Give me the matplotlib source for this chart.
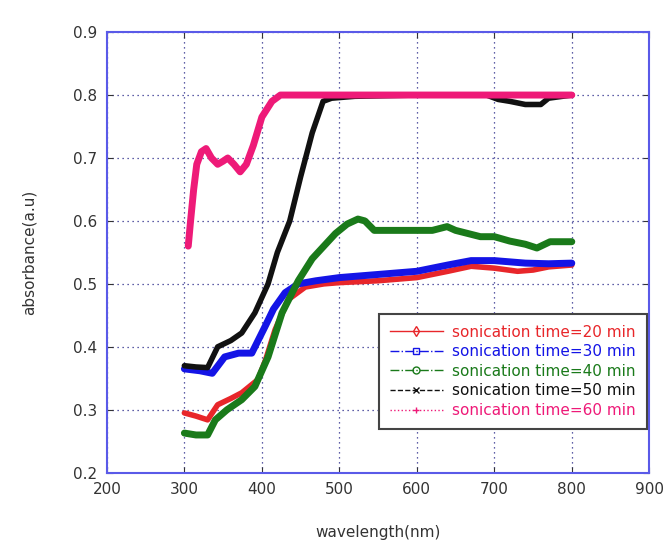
import matplotlib.pyplot as plt
from matplotlib.lines import Line2D

# Spectra (wavelength in nm, absorbance)
x_20 = [300, 315, 330, 343, 360, 374, 395, 405, 417, 434, 456, 480, 500, 550, 600, 640, 670, 700, 730, 750, 770, 800]
y_20 = [0.295, 0.29, 0.284, 0.308, 0.318, 0.327, 0.348, 0.38, 0.427, 0.475, 0.495, 0.50, 0.502, 0.505, 0.51, 0.52,
        0.528, 0.525, 0.52, 0.522, 0.527, 0.53]

x_30 = [300, 320, 336, 352, 370, 387, 404, 415, 430, 447, 470, 500, 550, 600, 640, 670, 700, 740, 770, 800]
y_30 = [0.365, 0.362, 0.358, 0.384, 0.39, 0.39, 0.432, 0.46, 0.486, 0.50, 0.505, 0.51, 0.515, 0.52, 0.53, 0.537,
        0.537, 0.533, 0.532, 0.533]

x_40 = [300, 315, 330, 340, 355, 374, 391, 408, 426, 447, 465, 480, 495, 510, 524, 533, 545, 580, 620, 639, 650,
        682, 700, 720, 740, 755, 772, 800]
y_40 = [0.263, 0.26, 0.26, 0.284, 0.30, 0.316, 0.337, 0.384, 0.454, 0.505, 0.54, 0.56, 0.58, 0.595, 0.603, 0.60,
        0.585, 0.585, 0.585, 0.591, 0.585, 0.575, 0.575, 0.568, 0.563, 0.557, 0.567, 0.567]

x_50 = [300, 315, 330, 343, 360, 374, 391, 408, 420, 436, 450, 465, 479, 490, 520, 600, 690, 705, 720, 740, 760,
        770, 800]
y_50 = [0.37, 0.368, 0.367, 0.40, 0.41, 0.422, 0.454, 0.50, 0.55, 0.60, 0.67, 0.74, 0.79, 0.795, 0.798, 0.80,
        0.80, 0.793, 0.79, 0.785, 0.785, 0.795, 0.80]

x_60 = [305, 308, 312, 316, 322, 328, 335, 343, 350, 356, 364, 372, 380, 389, 400, 413, 424, 450, 800]
y_60 = [0.56, 0.60, 0.65, 0.69, 0.71, 0.715, 0.70, 0.69, 0.695, 0.70, 0.69, 0.678, 0.69, 0.72, 0.765, 0.79, 0.80,
        0.80, 0.80]

labels = ['sonication time=20 min', 'sonication time=30 min', 'sonication time=40 min',
          'sonication time=50 min', 'sonication time=60 min']
colors = ['#e8262a', '#1414e6', '#1a7a1a', '#111111', '#ee1a78']
styles = ['-', '-.', '-.', '--', ':']
markers = ['d', 's', 'o', 'x', '+']

fig = plt.figure(figsize=(6.68, 5.44), dpi=100)
ax = fig.add_axes([0.160, 0.131, 0.812, 0.810])

series = [(x_20, y_20), (x_30, y_30), (x_40, y_40), (x_50, y_50), (x_60, y_60)]
widths = [4, 5, 5, 4, 5]
for (xs, ys), c, w in zip(series, colors, widths):
    ax.plot(xs, ys, color=c, lw=w, solid_joinstyle='round', solid_capstyle='round')

ax.set_xlim(200, 900)
ax.set_ylim(0.2, 0.9)
ax.set_xticks(range(200, 901, 100))
ax.set_yticks([0.2, 0.3, 0.4, 0.5, 0.6, 0.7, 0.8, 0.9])
ax.set_yticklabels(['0.2', '0.3', '0.4', '0.5', '0.6', '0.7', '0.8', '0.9'])
ax.grid(True, color='#2a2a8a', linestyle=(0, (1, 3)), lw=0.9)
ax.tick_params(direction='in', length=4, top=True, right=True, labelsize=11, colors='#333333', pad=7)
for s in ax.spines.values():
    s.set_color('#5a5ae8')
    s.set_linewidth(1.5)

ax.set_xlabel('wavelength(nm)', fontsize=11, color='#333333', labelpad=20)
ax.set_ylabel('absorbance(a.u)', fontsize=11, color='#333333', labelpad=26)

handles = [Line2D([], [], color=c, ls=ls, marker=m, mfc='none', ms=5, lw=1)
           for c, ls, m in zip(colors, styles, markers)]
leg = ax.legend(handles, labels, loc='lower right', bbox_to_anchor=(0.995, 0.1), fontsize=11,
                fancybox=False, framealpha=1, edgecolor='#444444', handlelength=3.5,
                borderpad=0.7, labelspacing=0.3, handletextpad=0.6, borderaxespad=0)
leg.get_frame().set_linewidth(1.5)
for t, c in zip(leg.get_texts(), colors):
    t.set_color(c)

fig.savefig('out.png', dpi=100)
